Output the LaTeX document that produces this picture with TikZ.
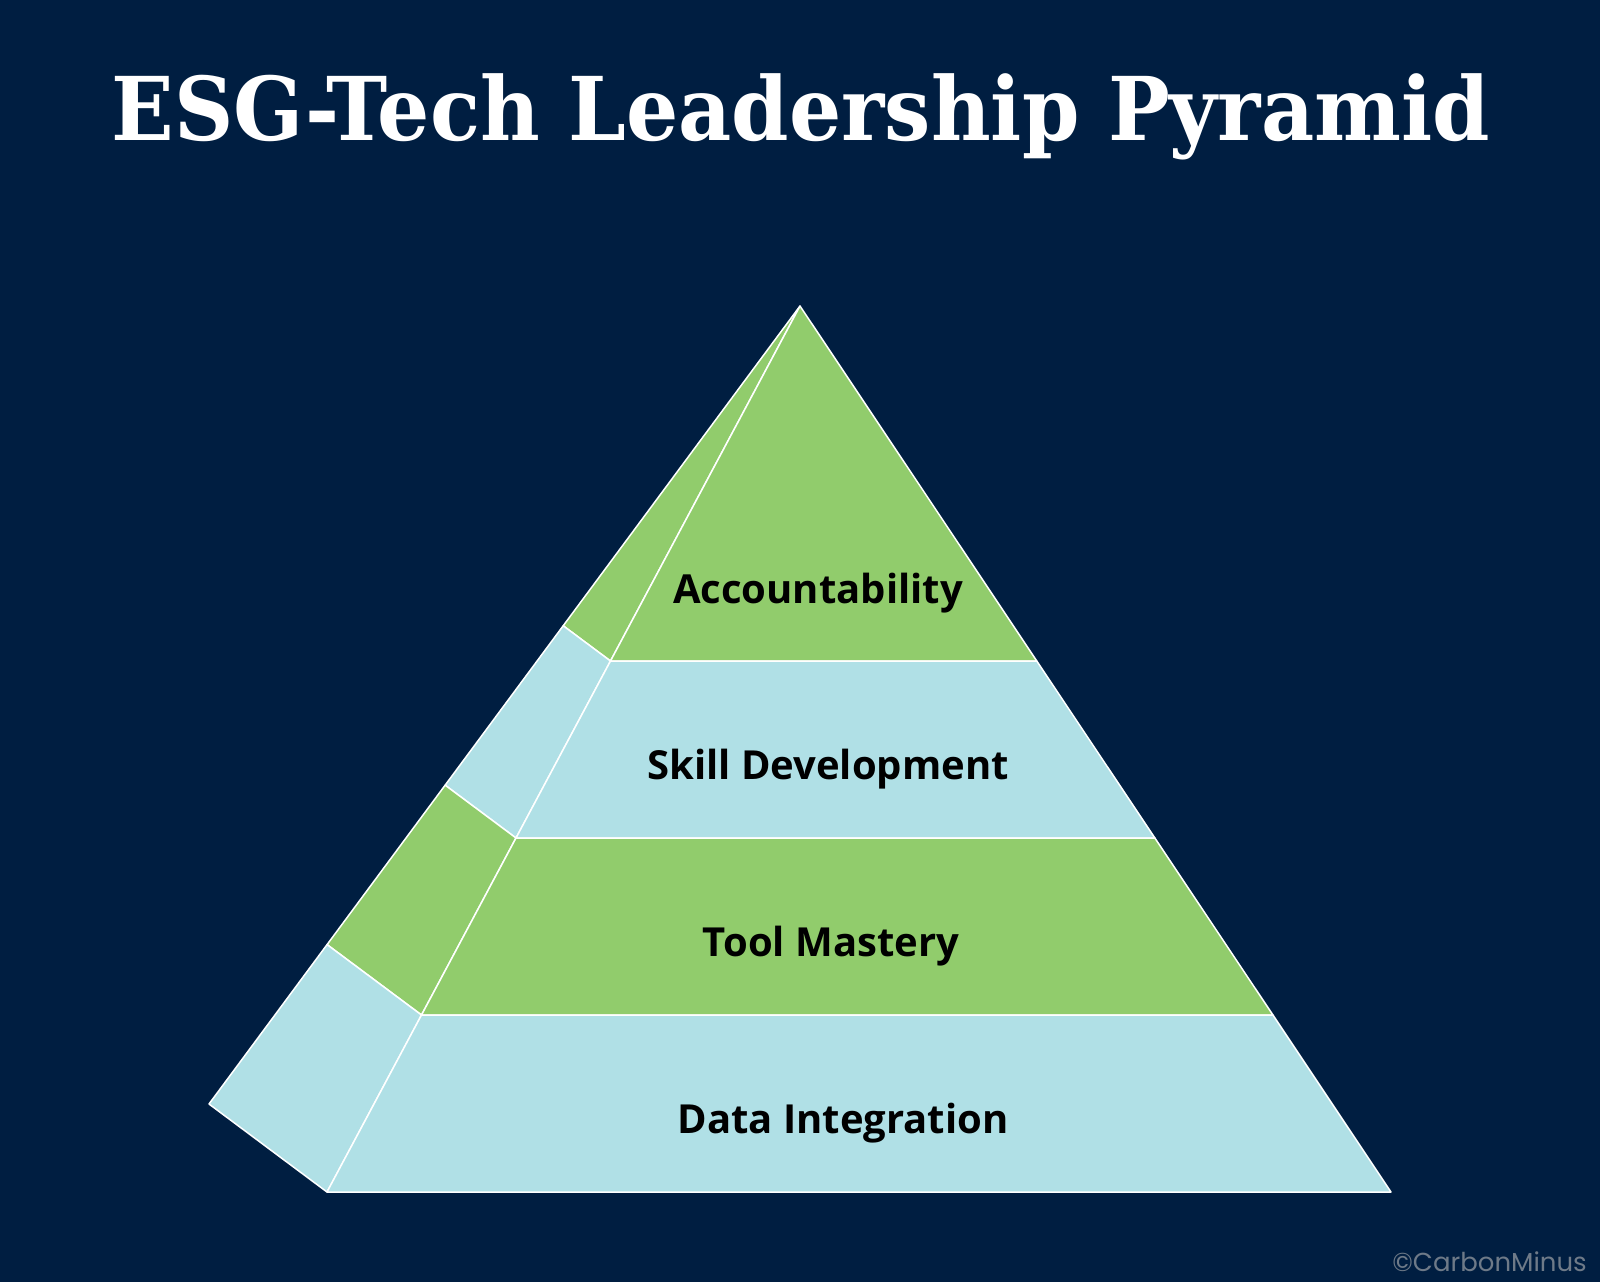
\documentclass[tikz,border=0pt]{standalone}
\usepackage{fontspec}
\usetikzlibrary{calc}
\newfontfamily\titlefont{DejaVu Serif}
\newfontfamily\labelfont{Open Sans}
\newfontfamily\markfont{Poppins}
\definecolor{navy}{HTML}{001E41}
\definecolor{leafgreen}{HTML}{91CC6C}
\definecolor{paleblue}{HTML}{B0E0E6}
\definecolor{markgray}{HTML}{6E7A88}
\tikzset{
  face/.style={draw=white, line width=1.5pt, line join=round},
  greenface/.style={face, fill=leafgreen},
  blueface/.style={face, fill=paleblue},
  tierlabel/.style={font=\labelfont\bfseries\fontsize{40}{48}\selectfont, text=black, inner sep=0pt, anchor=center}
}
\begin{document}
\begin{tikzpicture}[x=1pt,y=-1pt]
\useasboundingbox (0,0) rectangle (1600,1282);
\fill[navy] (0,0) rectangle (1600,1282);
% key points
\coordinate (A) at (800,306);
\coordinate (FB) at (327,1192);
\coordinate (RB) at (1391,1192);
\coordinate (BB) at (209,1104);
\coordinate (F1) at ($(A)!0.40068!(FB)$);
\coordinate (F2) at ($(A)!0.60045!(FB)$);
\coordinate (F3) at ($(A)!0.80023!(FB)$);
\coordinate (R1) at ($(A)!0.40068!(RB)$);
\coordinate (R2) at ($(A)!0.60045!(RB)$);
\coordinate (R3) at ($(A)!0.80023!(RB)$);
\coordinate (B1) at ($(A)!0.40068!(BB)$);
\coordinate (B2) at ($(A)!0.60045!(BB)$);
\coordinate (B3) at ($(A)!0.80023!(BB)$);
% side faces
\draw[greenface] (A) -- (B1) -- (F1) -- cycle;
\draw[blueface] (B1) -- (B2) -- (F2) -- (F1) -- cycle;
\draw[greenface] (B2) -- (B3) -- (F3) -- (F2) -- cycle;
\draw[blueface] (B3) -- (BB) -- (FB) -- (F3) -- cycle;
% front faces
\draw[greenface] (A) -- (F1) -- (R1) -- cycle;
\draw[blueface] (F1) -- (F2) -- (R2) -- (R1) -- cycle;
\draw[greenface] (F2) -- (F3) -- (R3) -- (R2) -- cycle;
\draw[blueface] (F3) -- (FB) -- (RB) -- (R3) -- cycle;
% labels
\node[tierlabel] (acc) at (818,593) {Accountability};
\node[tierlabel] (skill) at (828,769) {Skill Development};
\node[tierlabel] (tool) at (831,946) {Tool Mastery};
\node[tierlabel] (data) at (843,1123) {Data Integration};
% title
\node[font=\titlefont\bfseries\fontsize{88}{100}\selectfont, text=white, anchor=base, inner sep=0pt] (title) at (801,140) {\scalebox{0.934}[1]{ESG-Tech Leadership Pyramid}};
% watermark
\node[font=\markfont\fontsize{26}{30}\selectfont, text=markgray, anchor=east, inner sep=0pt] (mark) at (1587,1262) {©CarbonMinus};
\end{tikzpicture}
\end{document}
